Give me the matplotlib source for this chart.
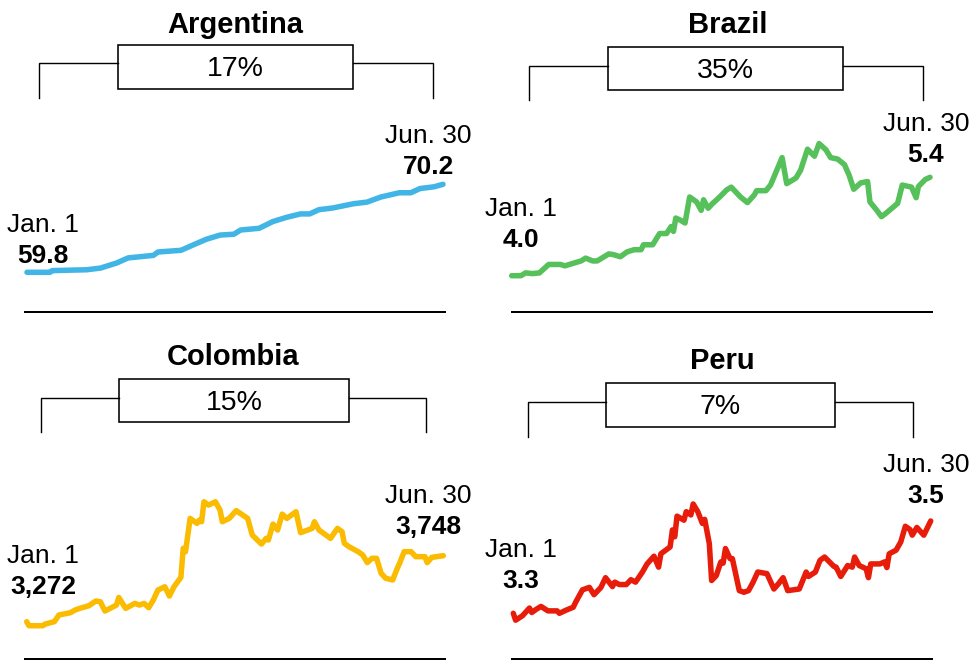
import matplotlib
matplotlib.use("Agg")
import matplotlib.pyplot as plt
from matplotlib.patches import Rectangle
from matplotlib.lines import Line2D

plt.rcParams['font.family'] = ['Liberation Sans', 'DejaVu Sans']

# ---------------- data (day index 0 = Jan. 1, 181 = Jun. 30) ----------------
countries = ["Argentina", "Brazil", "Colombia", "Peru"]

arg_days = [0, 10, 11, 26, 32, 39, 44, 55, 57, 67, 72, 78, 84, 90, 93, 101, 107,
            113, 119, 123, 127, 133, 142, 148, 154, 162, 167, 171, 177, 181]
arg_vals = [59.8, 59.8, 60.0, 60.1, 60.3, 60.9, 61.5, 61.8, 62.2, 62.4, 63.0, 63.7,
            64.2, 64.3, 64.8, 65.0, 65.8, 66.3, 66.7, 66.7, 67.2, 67.4, 67.9, 68.1,
            68.7, 69.2, 69.2, 69.7, 69.9, 70.2]

bra_days = [0, 4, 6, 9, 12, 16, 21, 23, 27, 30, 32, 35, 37, 42, 44, 47, 50, 53, 56,
            57, 61, 64, 67, 69, 70, 71, 73, 75, 77, 80, 82, 83, 85, 87, 90, 93, 95,
            99, 102, 105, 106, 110, 112, 117, 119, 123, 125, 128, 131, 133, 136,
            138, 141, 144, 146, 148, 151, 154, 155, 158, 160, 162, 167, 169, 173,
            175, 176, 179, 181]
bra_vals = [4.00, 4.00, 4.04, 4.03, 4.04, 4.16, 4.16, 4.14, 4.18, 4.21, 4.25, 4.21,
            4.21, 4.31, 4.30, 4.27, 4.34, 4.37, 4.37, 4.44, 4.44, 4.60, 4.60, 4.70,
            4.63, 4.82, 4.79, 4.75, 5.12, 5.05, 4.93, 5.08, 4.96, 5.03, 5.12, 5.22,
            5.26, 5.12, 5.04, 5.15, 5.21, 5.21, 5.29, 5.68, 5.31, 5.39, 5.50, 5.80,
            5.70, 5.88, 5.79, 5.68, 5.66, 5.58, 5.43, 5.23, 5.32, 5.34, 5.05, 4.93,
            4.84, 4.89, 5.03, 5.29, 5.26, 5.11, 5.27, 5.37, 5.40]

col_days = [0, 1, 7, 8, 12, 14, 19, 21, 23, 27, 30, 32, 34, 39, 40, 43, 47, 49, 51,
            53, 55, 57, 60, 62, 64, 67, 68, 69, 71, 74, 75, 76, 77, 79, 82, 84, 85,
            88, 91, 96, 98, 102, 104, 105, 107, 109, 111, 113, 117, 119, 124, 125,
            127, 132, 135, 137, 138, 140, 144, 146, 148, 150, 152, 154, 156, 159,
            161, 162, 164, 167, 169, 173, 174, 176, 181]
col_vals = [3272, 3243, 3243, 3255, 3272, 3320, 3337, 3356, 3368, 3387, 3421, 3416,
            3349, 3392, 3447, 3368, 3404, 3392, 3404, 3373, 3428, 3500, 3524, 3457,
            3524, 3592, 3801, 3777, 4017, 3981, 4005, 3993, 4137, 4113, 4137, 4077,
            3993, 4017, 4073, 4017, 3897, 3832, 3873, 3861, 3976, 3933, 4048, 4017,
            4065, 3914, 3945, 3993, 3933, 3873, 3945, 3921, 3837, 3813, 3777, 3753,
            3698, 3729, 3729, 3621, 3585, 3573, 3657, 3693, 3777, 3777, 3741, 3741,
            3698, 3736, 3748]

per_days = [0, 1, 4, 7, 8, 10, 12, 15, 19, 20, 23, 26, 27, 30, 33, 35, 38, 40, 43,
            44, 46, 49, 51, 53, 56, 58, 61, 63, 64, 68, 69, 70, 71, 74, 75, 77, 78,
            80, 82, 83, 85, 86, 88, 90, 91, 92, 94, 95, 98, 100, 102, 104, 106, 110,
            113, 115, 117, 119, 124, 127, 128, 131, 133, 135, 139, 140, 142, 145,
            147, 148, 150, 153, 154, 155, 159, 161, 162, 163, 166, 168, 170, 172,
            173, 175, 178, 181]
per_vals = [3.312, 3.295, 3.306, 3.325, 3.314, 3.322, 3.329, 3.318, 3.318, 3.312,
            3.320, 3.327, 3.339, 3.370, 3.376, 3.358, 3.376, 3.400, 3.378, 3.389,
            3.383, 3.383, 3.395, 3.389, 3.414, 3.434, 3.453, 3.426, 3.459, 3.476,
            3.518, 3.501, 3.552, 3.542, 3.563, 3.555, 3.582, 3.563, 3.534, 3.544,
            3.484, 3.393, 3.405, 3.439, 3.436, 3.472, 3.447, 3.447, 3.368, 3.364,
            3.368, 3.389, 3.414, 3.410, 3.372, 3.385, 3.400, 3.368, 3.372, 3.414,
            3.403, 3.414, 3.443, 3.451, 3.428, 3.426, 3.403, 3.430, 3.426, 3.451,
            3.430, 3.422, 3.400, 3.434, 3.434, 3.439, 3.425, 3.459, 3.468, 3.488,
            3.527, 3.519, 3.505, 3.524, 3.505, 3.540]

start_label = "Jan. 1"
end_label = "Jun. 30"
value_formats = ["{:.1f}", "{:.1f}", "{:,.0f}", "{:.1f}"]
colors = ["#41b6e6", "#56c05a", "#fbbb00", "#e81c0a"]

series = [(arg_days, arg_vals), (bra_days, bra_vals), (col_days, col_vals), (per_days, per_vals)]

# ---------------- layout (pixels, from top-left) ----------------
W, H = 973, 660
fig = plt.figure(figsize=(W / 100, H / 100), dpi=100)

def fx(x):
    return x / W

def fy(y):
    return 1 - y / H

# axes: x from first to last point; y from start pixel (bottom) to end pixel (top)
axes_px = [(27, 443, 272.3, 184.3),
           (511.7, 930, 275.7, 177.3),
           (26.7, 443.3, 621.7, 555.7),
           (513.3, 930.7, 613.3, 521.0)]
title_pos = [(235, 33), (728, 33), (233, 365), (722, 369)]
box_px = [(118, 353, 45, 89), (608, 843, 47, 90), (119, 349, 379, 422), (606, 835, 383, 427)]
bracket_px = [(39, 433, 63, 98), (529, 923, 66, 100), (41, 426, 398, 432), (528, 913, 402, 437)]
start_lbl_px = [(43, 232, 263), (521, 216, 247), (43, 563, 594), (521, 557, 588)]
end_lbl_px = [(428, 143, 174), (926, 131, 162), (428, 503, 534), (926, 472, 503)]
base_px = [(25, 445, 312), (512, 932, 312), (25, 445, 658.5), (512, 932, 658.5)]

lw_px = 0.72  # points per pixel at 100 dpi

for i, name in enumerate(countries):
    days, vals = series[i]
    x0, x1, yb, yt = axes_px[i]
    ax = fig.add_axes([fx(x0), fy(yb), fx(x1 - x0), (yb - yt) / H])
    ax.plot(days, vals, color=colors[i], lw=5.5 * lw_px, solid_capstyle='round',
            solid_joinstyle='round', clip_on=False)
    ax.set_xlim(days[0], days[-1])
    ax.set_ylim(vals[0], vals[-1])
    ax.axis('off')

    # title
    tx, ty = title_pos[i]
    fig.text(fx(tx), fy(ty), name, ha='center', va='baseline', fontsize=21,
             fontweight='bold', color='black')

    # bracket
    bl, br, by, bb = bracket_px[i]
    l, r, t, b = box_px[i]
    for xs, ys in [((bl, bl, l), (bb, by, by)), ((r, br, br), (by, by, bb))]:
        fig.add_artist(Line2D([fx(v) for v in xs], [fy(v) for v in ys],
                              color='black', lw=1.4 * lw_px, solid_joinstyle='miter'))
    fig.add_artist(Rectangle((fx(l), fy(b)), fx(r - l), (b - t) / H, fill=False,
                             edgecolor='black', lw=1.6 * lw_px))
    pct = round((vals[-1] / vals[0] - 1) * 100)
    fig.text(fx((l + r) / 2), fy((t + b) / 2 + 9.5), f"{pct}%", ha='center',
             va='baseline', fontsize=20.5, color='black')

    # start / end labels
    sx, s1, s2 = start_lbl_px[i]
    fig.text(fx(sx), fy(s1), start_label, ha='center', va='baseline', fontsize=19)
    fig.text(fx(sx), fy(s2), value_formats[i].format(vals[0]), ha='center',
             va='baseline', fontsize=19, fontweight='bold')
    ex, e1, e2 = end_lbl_px[i]
    fig.text(fx(ex), fy(e1), end_label, ha='center', va='baseline', fontsize=19)
    fig.text(fx(ex), fy(e2), value_formats[i].format(vals[-1]), ha='center',
             va='baseline', fontsize=19, fontweight='bold')

    # baseline rule
    gx0, gx1, gy = base_px[i]
    fig.add_artist(Line2D([fx(gx0), fx(gx1)], [fy(gy), fy(gy)], color='black',
                          lw=2 * lw_px))

fig.savefig("out.png", dpi=100, facecolor='white')
